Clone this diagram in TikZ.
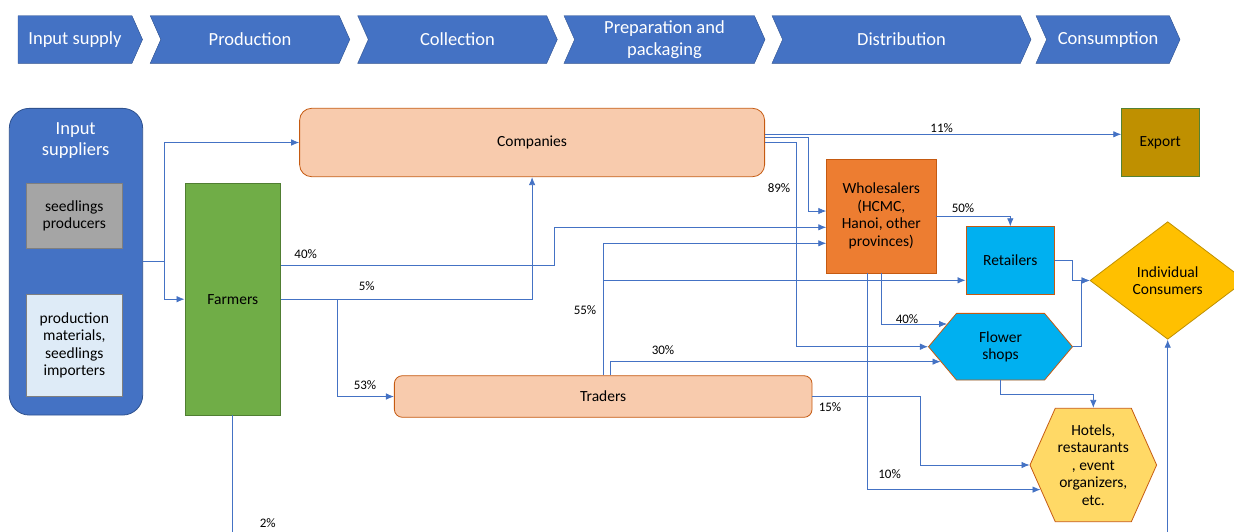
\documentclass[tikz,border=0pt]{standalone}
\usepackage{fontspec}
\setmainfont{Carlito}
\usepackage{tikz}
\usetikzlibrary{arrows.meta,shapes.geometric,shapes.symbols}

\definecolor{stageblue}{HTML}{4472C4}
\definecolor{stageedge}{HTML}{2F528F}
\definecolor{peach}{HTML}{F8CBAD}
\definecolor{rust}{HTML}{C55A11}
\definecolor{leaf}{HTML}{70AD47}
\definecolor{leafedge}{HTML}{507E32}
\definecolor{olive}{HTML}{BF9000}
\definecolor{oliveedge}{HTML}{548235}
\definecolor{orng}{HTML}{ED7D31}
\definecolor{sky}{HTML}{00B0F0}
\definecolor{gold}{HTML}{FFC000}
\definecolor{sand}{HTML}{FFD966}
\definecolor{greybox}{HTML}{A5A5A5}
\definecolor{greyedge}{HTML}{7F7F7F}
\definecolor{paleblue}{HTML}{DEEBF7}

\begin{document}
\begin{tikzpicture}[x=1pt, y=-1pt, stage/.style={signal, signal to=east, signal pointer angle=132, fill=stageblue, draw=stageedge, line width=0.4, text=white, align=center, inner sep=0, minimum height=47.6, font=\fontsize{18.5}{22}\selectfont}, notched/.style={stage, signal from=west}, actor/.style={draw=rust, line width=0.8, align=center, inner sep=0, font=\fontsize{15.5}{17.5}\selectfont}, flow/.style={draw=stageblue, line width=0.8, -{Latex[length=8,width=6.5]}}, link/.style={draw=stageblue, line width=0.8}, pct/.style={inner sep=0, font=\fontsize{13}{15}\selectfont}]

\useasboundingbox (0,0) rectangle (1234,531);

% stages of the chain
\node[stage, minimum width=124.5] (supply) at (75,39.5) {Input supply};
\node[notched, minimum width=199.6] (production) at (250,39.5) {Production};
\node[notched, minimum width=199.6] (collection) at (457.5,39.5) {Collection};
\node[notched, minimum width=201] (preparation) at (664.5,39.5) {Preparation and\\packaging};
\node[notched, minimum width=259] (distribution) at (901.5,39.5) {Distribution};
\node[notched, minimum width=144] (consumption) at (1108,39.5) {Consumption};

% actors
\node[actor, rounded corners=20, fill=stageblue, draw=stageedge, minimum width=133.4, minimum height=306.7] (inputsup) at (76,261.7) {};
\node[inner sep=0, align=center, text=white, font=\fontsize{18.5}{21}\selectfont] (suptitle) at (75.7,141) {Input\\suppliers};
\node[actor, fill=greybox, draw=greyedge, minimum width=95.3, minimum height=64.6] (seedprod) at (74.3,216) {seedlings\\producers};
\node[actor, fill=paleblue, draw=greyedge, minimum width=95.3, minimum height=101.7] (importers) at (74.3,345.2) {production\\materials,\\seedlings\\importers};
\node[actor, fill=leaf, draw=leafedge, minimum width=95.7, minimum height=231.7] (farmers) at (232.8,299.2) {Farmers};
\node[actor, rounded corners=12, fill=peach, minimum width=465, minimum height=68.4] (companies) at (532.1,142.5) {Companies};
\node[actor, rounded corners=8, fill=peach, minimum width=417.7, minimum height=41.6] (traders) at (603.2,396.5) {Traders};
\node[actor, fill=olive, draw=oliveedge, minimum width=77.3, minimum height=68.7] (export) at (1160.3,142.3) {Export};
\node[actor, fill=orng, minimum width=109.3, minimum height=114] (wholesalers) at (881.3,216) {Wholesalers\\(HCMC,\\Hanoi, other\\provinces)};
\node[actor, fill=sky, minimum width=88.7, minimum height=67.6] (retailers) at (1010.3,260.5) {Retailers};
\node[actor, diamond, fill=gold, draw=olive, aspect=1.3, minimum width=155.4, minimum height=117.6] (consumers) at (1167.7,280.5) {Individual\\Consumers};
\node[actor, signal, signal to=east and west, signal pointer angle=100, fill=sky, minimum width=144, minimum height=66.7] (fshops) at (1000.5,346.7) {Flower\\shops};
\node[actor, signal, signal to=east and west, signal pointer angle=132, fill=sand, minimum width=126.6, minimum height=113.4] (hotels) at (1093.3,465) {Hotels,\\restaurants\\, event\\organizers,\\etc.};

\coordinate (farmend) at (232.8,545);
\coordinate (consend) at (1167.7,545);

% flows
\draw[flow] (inputsup.east) -- ++(21.3,0) |- (companies.west);
\draw[flow] (inputsup.east) -- ++(21.3,0) |- (farmers.west);
\draw[flow] (farmers.east |- 0,265) -| (554,227.3) -- (wholesalers.west |- 0,227.3);
\draw[flow] (farmers.east) -| (companies.south);
\draw[flow] (farmers.east) -- (337.3,299.2) |- (traders.west);
\draw[link] (farmers.south) -- (farmend);
\draw[flow] (companies.east |- 0,134.3) -- (export.west |- 0,134.3);
\draw[flow] (companies.east |- 0,137.7) -| (808.6,211) -- (wholesalers.west |- 0,211);
\draw[flow] (companies.east) -- (796,142.5) |- (fshops.west);
\draw[flow] (traders.north) |- (wholesalers.west |- 0,243.3);
\draw[flow] (traders.north |- 0,280.3) -- (retailers.west |- 0,280.3);
\draw[flow] (traders.north -| 610.6,0) |- (fshops.194);
\draw[flow] (traders.east) -- (920.5,396.5) |- (hotels.west);
\draw[flow] (wholesalers.east) -| (retailers.north);
\draw[flow] (wholesalers.south) |- (fshops.157);
\draw[flow] (wholesalers.south -| 867.7,0) |- (hotels.205);
\draw[flow] (retailers.east) -- ++(17.6,0) |- (consumers.west);
\draw[flow] (fshops.east) -- ++(8.6,0) |- (consumers.west);
\draw[flow] (fshops.south) -- ++(0,13.6) -| (hotels.north);
\draw[flow] (consend) -- (consumers.south);

% shares
\node[pct] (p40f) at (305.7,254) {40\%};
\node[pct] (p5) at (366.8,286) {5\%};
\node[pct] (p53) at (365,385) {53\%};
\node[pct] (p2) at (267.7,522.7) {2\%};
\node[pct] (p11) at (941.7,128.5) {11\%};
\node[pct] (p89) at (779,188.3) {89\%};
\node[pct] (p55) at (585,310) {55\%};
\node[pct] (p50) at (963,208) {50\%};
\node[pct] (p40w) at (907,319) {40\%};
\node[pct] (p30) at (663,350) {30\%};
\node[pct] (p15) at (830,406.7) {15\%};
\node[pct] (p10) at (889.6,474) {10\%};

\end{tikzpicture}
\end{document}
